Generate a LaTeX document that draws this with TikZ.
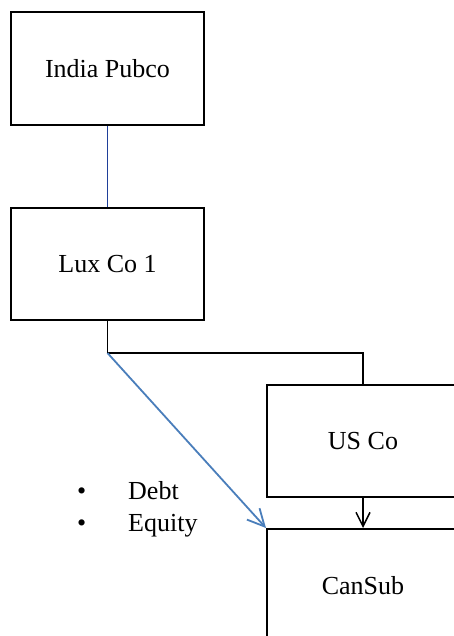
\documentclass[tikz,border=0pt]{standalone}
\usepackage{fontspec}
\setmainfont{Liberation Serif}
\usetikzlibrary{arrows.meta}
\definecolor{navyline}{HTML}{1F3F99}
\definecolor{blueline}{HTML}{4A7EBB}
\tikzset{
  entity/.style={draw=black, line width=2pt, rectangle, minimum width=193pt, minimum height=113pt, inner sep=0pt, font=\fontsize{26pt}{30pt}\selectfont},
  own/.style={draw=black, line width=1.5pt},
  loanline/.style={draw=blueline, line width=1.8pt},
  tip/.style={-{Straight Barb[length=14pt,width=14pt,line width=1.5pt]}},
  bigtip/.style={-{Straight Barb[length=17pt,width=17pt,line width=1.8pt]}},
  lbl/.style={font=\fontsize{26pt}{32pt}\selectfont, anchor=north west, inner sep=0pt, align=left}
}
\begin{document}
\begin{tikzpicture}[x=1pt,y=-1pt]
\useasboundingbox (0,0) rectangle (454,636);
\clip (0,0) rectangle (454,636);
\fill[white] (0,0) rectangle (454,636);
\node[entity] (india) at (107.5,68.5) {India Pubco};
\node[entity, minimum height=112pt] (lux) at (107.5,264) {Lux Co 1};
\node[entity, minimum width=192pt, minimum height=112pt] (us) at (363,441) {US Co};
\node[entity, minimum width=192pt] (can) at (363,585.5) {CanSub};
\coordinate (j) at (lux.south |- 0,353);
\draw[draw=navyline, line width=1.3pt] (india.south) -- (lux.north);
\draw[own] (lux.south) -- (j) -| (us.north);
\draw[own, tip] (us.south) -- (can.north);
\draw[loanline, bigtip] (j) -- (can.north west);
\node[lbl] (bul) at (77,481) {\makebox[51pt][l]{\textbullet}Debt\\\makebox[51pt][l]{\textbullet}Equity};
\end{tikzpicture}
\end{document}
